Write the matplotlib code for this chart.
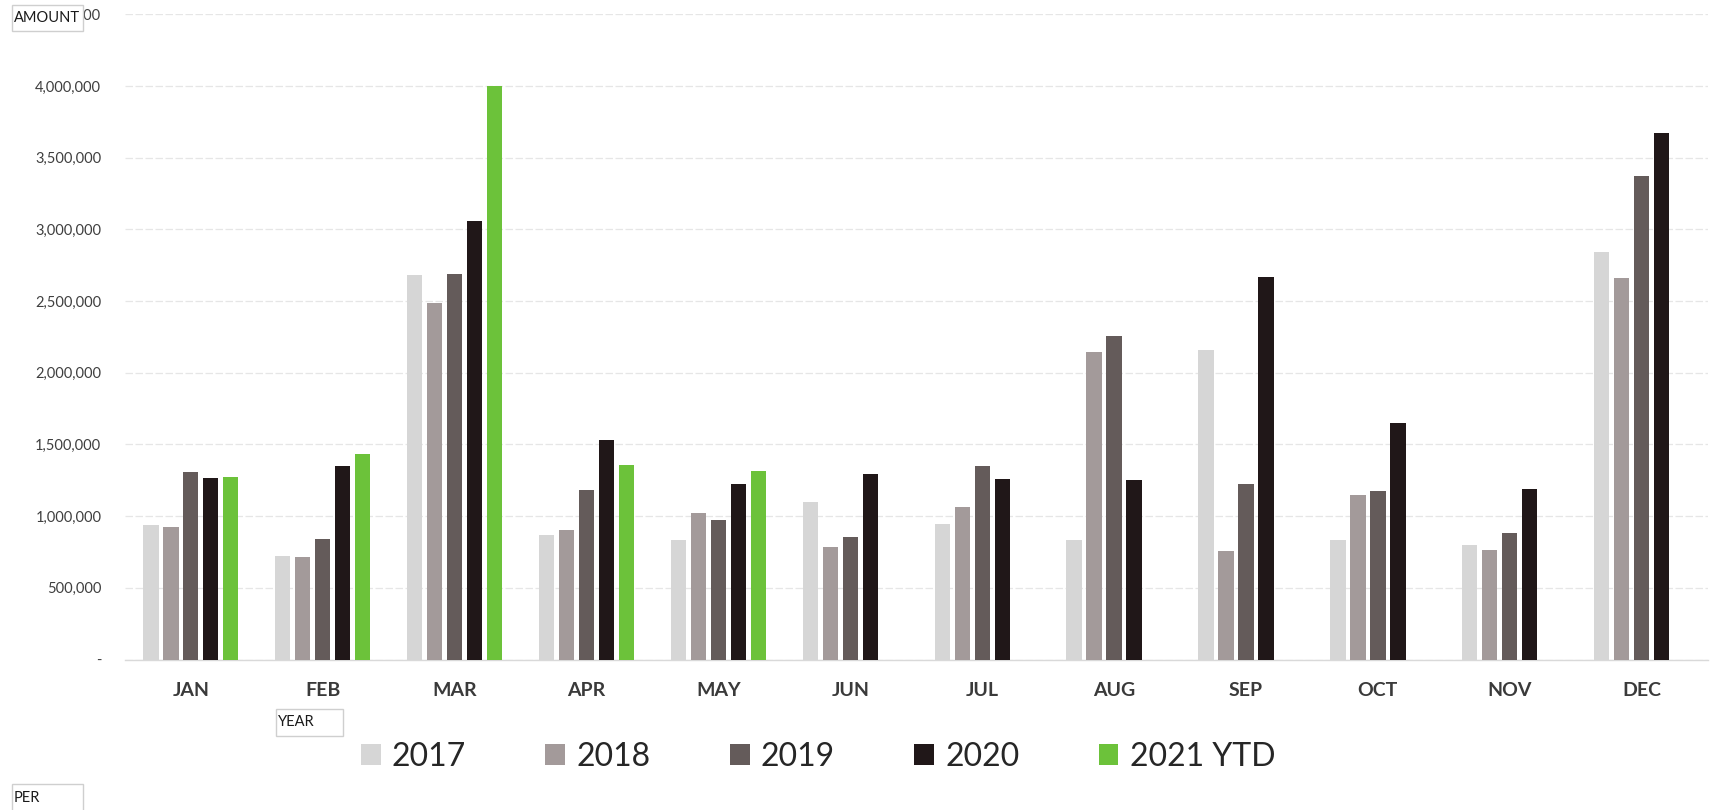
import numpy as np
import matplotlib.pyplot as plt
from matplotlib.patches import Rectangle
from matplotlib.ticker import FuncFormatter

plt.rcParams['font.family'] = ['Lato', 'DejaVu Sans']

months = ["JAN", "FEB", "MAR", "APR", "MAY", "JUN",
          "JUL", "AUG", "SEP", "OCT", "NOV", "DEC"]
years = ["2017", "2018", "2019", "2020", "2021 YTD"]

amt_2017 = [938000, 725000, 2678000, 865000, 835000, 1098000,
            942000, 835000, 2155000, 832000, 800000, 2840000]
amt_2018 = [925000, 714000, 2487000, 900000, 1023000, 788000,
            1063000, 2147000, 755000, 1146000, 765000, 2660000]
amt_2019 = [1311000, 841000, 2690000, 1184000, 974000, 853000,
            1351000, 2256000, 1225000, 1178000, 885000, 3370000]
amt_2020 = [1263000, 1346000, 3055000, 1528000, 1226000, 1295000,
            1256000, 1249000, 2668000, 1648000, 1190000, 3675000]
amt_2021 = [1274000, 1434000, 4000000, 1358000, 1312000, np.nan,
            np.nan, np.nan, np.nan, np.nan, np.nan, np.nan]

series = [amt_2017, amt_2018, amt_2019, amt_2020, amt_2021]
colors = ["#d6d6d6", "#a39a9a", "#645b5a", "#201718", "#6cc23a"]

W, H = 1720, 810
fig = plt.figure(figsize=(W / 100, H / 100), dpi=100)
ax = fig.add_axes([124.9 / W, 1 - 659.5 / H, (1707.6 - 124.9) / W, (659.5 - 14.2) / H])

x = np.arange(len(months))
step = 0.1516
bars = []
for k, (vals, c) in enumerate(zip(series, colors)):
    b = ax.bar(x + (k - 2) * step, vals, width=0.116, color=c, label=years[k], zorder=3)
    bars.append(b)

ax.set_xlim(-0.5, 11.5)
ax.set_ylim(0, 4500000)
ax.set_yticks(np.arange(0, 4500001, 500000))
ax.yaxis.set_major_formatter(FuncFormatter(lambda v, p: "-" if v == 0 else f"{int(v):,}"))
ax.set_xticks(x)
ax.set_xticklabels(months, fontweight="bold", fontsize=14, color="#3a3a3a")
ax.tick_params(axis="y", length=0, pad=17, labelsize=10.5, labelcolor="#3f3f3f")
ax.tick_params(axis="x", length=0, pad=16)

ax.grid(axis="y", color="#e6e6e6", linewidth=0.9, linestyle=(0, (6, 2)), zorder=0)
for s in ["top", "right", "left"]:
    ax.spines[s].set_visible(False)
ax.spines["bottom"].set_color("#d9d9d9")
ax.spines["bottom"].set_linewidth(1.0)

# legend row under the chart
fig.legend(handles=bars, labels=years, loc="center left",
           bbox_to_anchor=(361 / W, 1 - 757 / H), ncol=5, frameon=False,
           fontsize=23, handlelength=0.62, handleheight=0.62,
           handletextpad=0.35, columnspacing=2.48, borderpad=0, borderaxespad=0,
           labelcolor="#262626")


# pivot field buttons
def field_button(x0, y0, x1, y1, label):
    fig.patches.append(Rectangle((x0 / W, 1 - y1 / H), (x1 - x0) / W, (y1 - y0) / H,
                                 transform=fig.transFigure, facecolor="white",
                                 edgecolor="#cfcfcf", linewidth=1.0, zorder=5))
    fig.text((x0 + 2) / W, 1 - (y0 + y1) / 2 / H, label, fontsize=10.5,
             color="#1a1a1a", va="center", ha="left", zorder=6)


field_button(11.7, 5, 82.7, 30.7, "AMOUNT")
field_button(276, 709, 343, 736, "YEAR")
field_button(11.7, 784, 82.7, 812, "PER")

fig.savefig("out.png", dpi=100, facecolor="white")
